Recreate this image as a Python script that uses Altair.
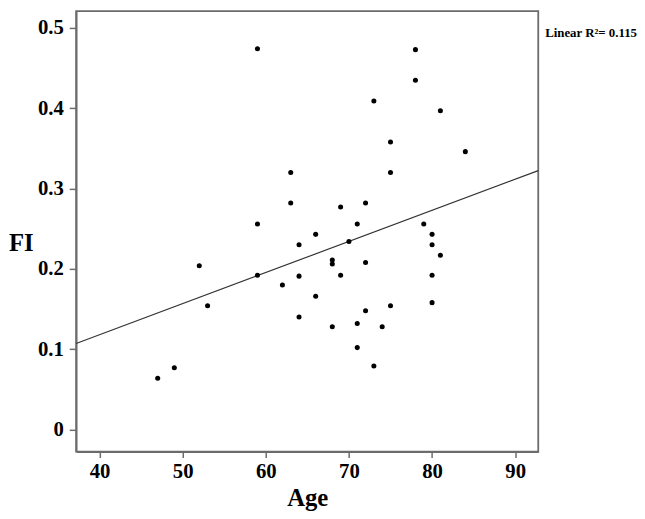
import altair as alt
import pandas as pd

# Data
age = [47, 49, 52, 53, 59, 59, 59, 62, 63, 63, 64, 64, 64, 66, 66, 68, 68, 68,
       69, 69, 70, 71, 71, 71, 72, 72, 72, 73, 73, 74, 75, 75, 75, 78, 78, 79,
       80, 80, 80, 80, 81, 81, 84]
fi = [0.064, 0.077, 0.204, 0.154, 0.474, 0.256, 0.192, 0.180, 0.320, 0.282,
      0.230, 0.191, 0.140, 0.243, 0.166, 0.206, 0.211, 0.128, 0.277, 0.192,
      0.234, 0.256, 0.132, 0.102, 0.282, 0.208, 0.148, 0.409, 0.079, 0.128,
      0.358, 0.320, 0.154, 0.473, 0.435, 0.256, 0.243, 0.230, 0.192, 0.158,
      0.397, 0.217, 0.346]
x_ticks = [40, 50, 60, 70, 80, 90]
y_ticks = [0, 0.1, 0.2, 0.3, 0.4, 0.5]
x_domain = [37.19, 92.77]
y_domain = [-0.0274, 0.5209]
annotation = ["Linear R\u00b2= 0.115"]

df = pd.DataFrame({"Age": age, "FI": fi})

FONT = "Liberation Serif"
AX = "#6b6b6b"

x_enc = alt.X(
    "Age:Q",
    scale=alt.Scale(domain=x_domain, nice=False, zero=False),
    axis=alt.Axis(
        values=x_ticks, title="Age", format="d", grid=False,
        tickSize=6, labelPadding=3, labelFontSize=21,
        labelFont=FONT, labelFontWeight="bold", labelColor="black",
        titleFont=FONT, titleFontWeight="bold", titleColor="black",
        titleFontSize=25, titleBaseline="alphabetic", titleY=55,
    ),
)
y_enc = alt.Y(
    "FI:Q",
    scale=alt.Scale(domain=y_domain, nice=False, zero=False),
    axis=alt.Axis(
        values=y_ticks, title="FI", format=".1~f", grid=False,
        tickSize=7, labelPadding=6, labelFontSize=21,
        labelFont=FONT, labelFontWeight="bold", labelColor="black",
        titleFont=FONT, titleFontWeight="bold", titleColor="black",
        titleFontSize=25, titleAngle=0, titleAlign="center",
        titleBaseline="middle", titleX=-56, titleY=234,
    ),
)

base = alt.Chart(df)

points = base.mark_circle(size=26, color="black", opacity=1).encode(x=x_enc, y=y_enc)

fit = base.transform_regression("Age", "FI", extent=x_domain).mark_line(
    color="#333333", strokeWidth=1.2
).encode(x="Age:Q", y="FI:Q")

label = alt.Chart(pd.DataFrame({"label": annotation})).mark_text(
    align="left", baseline="middle", font=FONT, fontWeight="bold",
    fontSize=13, color="black"
).encode(text="label:N", x=alt.value(475), y=alt.value(22.5))

chart = alt.layer(fit, points, label).properties(
    width=468, height=446,
    autosize=alt.AutoSizeParams(type="none"),
    padding={"left": 69, "top": 0, "right": 100, "bottom": 57},
).configure_view(
    stroke=AX, strokeWidth=1.8
).configure_axis(
    domainColor=AX, domainWidth=1.8, tickColor=AX, tickWidth=1.5,
)

chart.save("out.html", embed_options={"renderer": "svg", "actions": False})
